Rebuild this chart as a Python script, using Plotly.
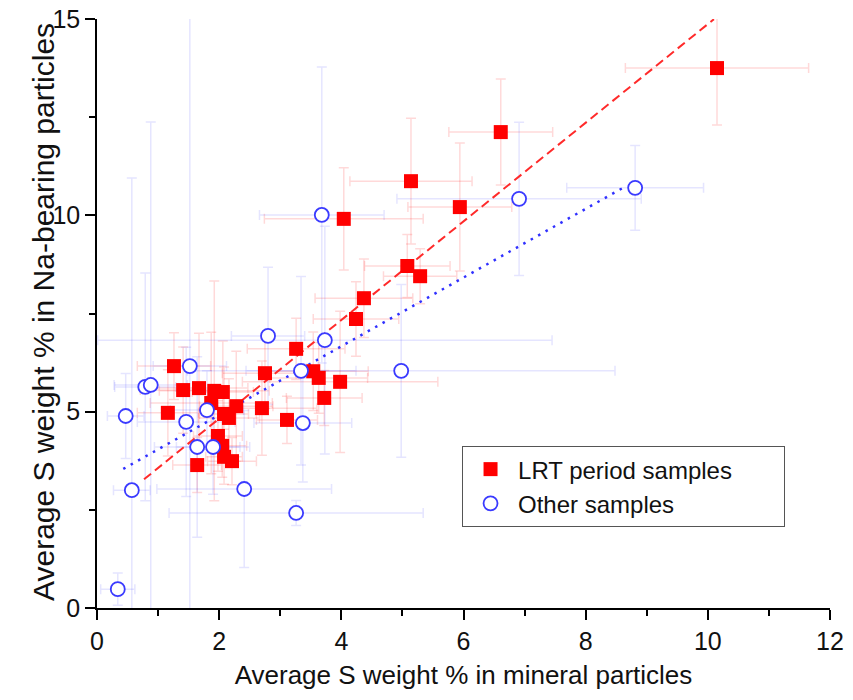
import numpy as np
import plotly.graph_objects as go

# ---- data: LRT period samples ----
lrt_x = [10.15, 6.61, 5.14, 4.04, 5.94, 5.08, 5.29, 4.37, 4.24, 3.26, 2.75, 1.26, 1.41, 1.67, 1.92, 2.06,
         1.87, 2.08, 1.16, 2.28, 2.16, 1.98, 2.05, 2.08, 2.21, 1.64, 2.70, 3.11, 3.54, 3.63, 3.98, 3.72]
lrt_y = [13.75, 12.12, 10.87, 9.91, 10.21, 8.71, 8.45, 7.89, 7.36, 6.60, 5.98, 6.16, 5.55, 5.60, 5.53, 5.50,
         5.22, 4.94, 4.97, 5.14, 4.84, 4.38, 4.13, 3.85, 3.74, 3.64, 5.09, 4.79, 6.03, 5.86, 5.76, 5.35]
lrt_xerr = [1.5, 0.85, 1.0, 1.3, 0.85, 0.7, 0.6, 0.8, 0.7, 0.8, 0.7, 0.6, 0.7, 0.8, 0.9, 0.5,
            1.0, 0.4, 0.5, 0.6, 0.5, 0.4, 0.4, 0.3, 0.4, 0.4, 0.9, 0.5, 0.9, 0.8, 1.6, 0.62]
lrt_yerr = [1.45, 1.35, 1.6, 1.3, 1.63, 0.8, 0.7, 1.0, 0.95, 0.78, 0.9, 0.85, 1.1, 1.4, 2.8, 1.3,
            1.8, 1.2, 1.1, 1.4, 1.0, 0.9, 0.8, 0.7, 0.6, 0.7, 1.2, 0.6, 1.0, 0.9, 1.8, 0.7]

# ---- data: Other samples ----
oth_x = [8.81, 6.91, 3.68, 3.73, 2.80, 3.34, 4.98, 1.52, 0.79, 0.88, 0.47, 1.46, 1.80, 3.37, 1.64, 1.90,
         0.57, 2.41, 3.26, 0.34]
oth_y = [10.70, 10.42, 10.01, 6.82, 6.93, 6.04, 6.04, 6.16, 5.63, 5.68, 4.89, 4.74, 5.04, 4.71, 4.10, 4.10,
         3.00, 3.03, 2.42, 0.48]
oth_xerr = [1.12, 2.0, 1.02, 3.72, 0.6, 0.9, 3.5, 0.6, 0.5, 0.6, 0.3, 0.8, 0.6, 0.8, 0.7, 0.6,
            0.3, 1.43, 2.08, 0.28]
oth_yerr = [1.08, 1.95, 3.77, 2.9, 1.75, 2.4, 2.2, 9.0, 2.9, 6.7, 1.08, 1.9, 1.0, 1.5, 2.3, 1.2,
            7.95, 2.0, 0.32, 0.41]

# ---- fitted lines ----
lrt_fit_slope, lrt_fit_intercept = 1.256, 2.31
lrt_fit_xrange = [0.77, 10.1]
oth_fit_slope, oth_fit_intercept = 0.875, 3.165
oth_fit_xrange = [0.43, 8.64]

series_names = ["LRT period samples", "Other samples"]
x_title = "Average S weight % in mineral particles"
y_title = "Average S weight % in Na-bearing particles"

FONT = "Liberation Sans, Arial, sans-serif"
RED = "#ff0000"
BLUE = "#3a3aff"
PAD = "\u00a0" * 7  # widen legend box like the reference

fig = go.Figure()

# error bars (drawn first, markers invisible)
fig.add_trace(go.Scatter(
    x=lrt_x, y=lrt_y, mode="markers", marker=dict(opacity=0), showlegend=False, hoverinfo="skip",
    error_x=dict(type="data", array=lrt_xerr, color="rgba(255,0,0,0.15)", thickness=1.5, width=5),
    error_y=dict(type="data", array=lrt_yerr, color="rgba(255,0,0,0.15)", thickness=1.5, width=5)))
fig.add_trace(go.Scatter(
    x=oth_x, y=oth_y, mode="markers", marker=dict(opacity=0), showlegend=False, hoverinfo="skip",
    error_x=dict(type="data", array=oth_xerr, color="rgba(40,40,255,0.12)", thickness=1.5, width=5),
    error_y=dict(type="data", array=oth_yerr, color="rgba(40,40,255,0.12)", thickness=1.5, width=5)))

# fit lines
lx = np.array(lrt_fit_xrange)
ox = np.array(oth_fit_xrange)
fig.add_trace(go.Scatter(x=lx, y=lrt_fit_slope * lx + lrt_fit_intercept, mode="lines",
                         line=dict(color="#ff2a2a", width=2, dash="9px,5px"), showlegend=False))
fig.add_trace(go.Scatter(x=ox, y=oth_fit_slope * ox + oth_fit_intercept, mode="lines",
                         line=dict(color="#3030ff", width=2.5, dash="2.5px,6px"), showlegend=False))

# markers
fig.add_trace(go.Scatter(x=lrt_x, y=lrt_y, mode="markers", name=series_names[0] + PAD,
                         marker=dict(symbol="square", size=14, color=RED, line=dict(width=0))))
fig.add_trace(go.Scatter(x=oth_x, y=oth_y, mode="markers", name=series_names[1],
                         marker=dict(symbol="circle", size=14, color="white",
                                     line=dict(color=BLUE, width=1.8))))

axis_common = dict(showline=True, linecolor="black", linewidth=1.5, ticks="outside", ticklen=10,
                   tickwidth=1.5, tickcolor="black", showgrid=False, zeroline=False,
                   tickfont=dict(family=FONT, size=25, color="#111"))

fig.update_xaxes(range=[0, 12], tick0=0, dtick=2,
                 minor=dict(dtick=1, ticks="outside", ticklen=6, tickwidth=1.5, tickcolor="black"),
                 title=dict(text=x_title, font=dict(family=FONT, size=26, color="#111"), standoff=12),
                 **axis_common)
fig.update_yaxes(range=[0, 15], tick0=0, dtick=5,
                 minor=dict(dtick=2.5, ticks="outside", ticklen=6, tickwidth=1.5, tickcolor="black"),
                 **axis_common)

fig.add_annotation(text=y_title, xref="paper", yref="paper", x=-0.0737, y=0.5025,
                   xanchor="center", yanchor="middle", textangle=-90, showarrow=False,
                   font=dict(family=FONT, size=30, color="#111"))

fig.update_layout(
    width=853, height=700,
    margin=dict(l=97, r=23, t=19, b=92, autoexpand=False),
    paper_bgcolor="white", plot_bgcolor="white",
    legend=dict(x=0.498, y=0.275, xanchor="left", yanchor="top",
                bordercolor="#555", borderwidth=1, bgcolor="white",
                font=dict(family=FONT, size=24, color="#111"), itemwidth=45,
                tracegroupgap=0),
)

fig.write_html("out.html")
